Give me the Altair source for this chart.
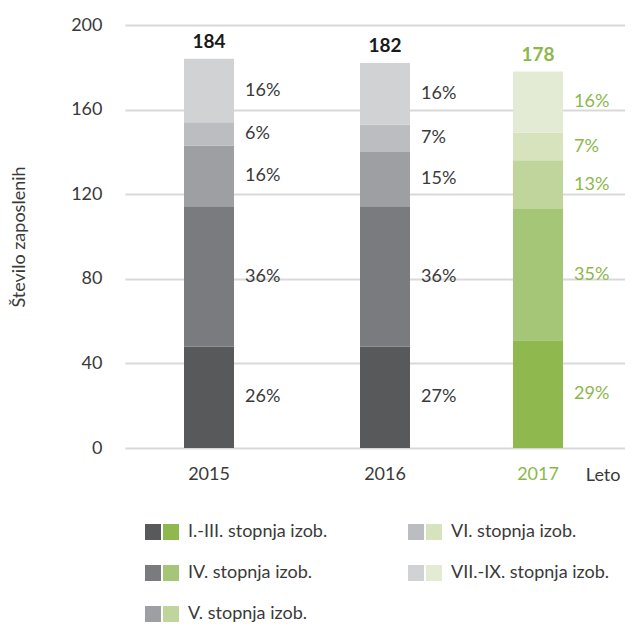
import altair as alt
import pandas as pd

years = [2015, 2016, 2017]
levels = ["I.-III. stopnja izob.", "IV. stopnja izob.", "V. stopnja izob.",
          "VI. stopnja izob.", "VII.-IX. stopnja izob."]
counts_2015 = [48, 66, 29, 11, 30]
counts_2016 = [48, 66, 26, 13, 29]
counts_2017 = [51, 62, 23, 13, 29]
pct_2015 = ["26%", "36%", "16%", "6%", "16%"]
pct_2016 = ["27%", "36%", "15%", "7%", "16%"]
pct_2017 = ["29%", "35%", "13%", "7%", "16%"]
totals = [184, 182, 178]
y_ticks = [0, 40, 80, 120, 160, 200]

grey_palette = ["#58595B", "#7A7B7F", "#9E9FA3", "#BCBDC0", "#D1D2D4"]
green_palette = ["#8FB84E", "#A6C677", "#BFD59B", "#D6E3BD", "#E3EBD5"]
GREEN_TEXT = "#8CB84B"
DARK_TEXT = "#3a3a3a"
FONT = "Lato"

rows = []
for year, counts, pcts in zip(years, [counts_2015, counts_2016, counts_2017],
                              [pct_2015, pct_2016, pct_2017]):
    pal = "green" if year == 2017 else "grey"
    cum = 0
    for i, (lvl, c, p) in enumerate(zip(levels, counts, pcts)):
        rows.append(dict(year=year, level=lvl, y0=cum, y1=cum + c, mid=cum + c / 2,
                         pct=p, key=f"{pal}-{i}", pal=pal))
        cum += c
df = pd.DataFrame(rows)
tot_df = pd.DataFrame({"year": years, "total": totals,
                       "label": [str(y) for y in years],
                       "pal": ["green" if y == 2017 else "grey" for y in years]})

keys = [f"grey-{i}" for i in range(5)] + [f"green-{i}" for i in range(5)]
color_scale = alt.Scale(domain=keys, range=grey_palette + green_palette)
text_scale = alt.Scale(domain=["grey", "green"], range=[DARK_TEXT, GREEN_TEXT])

W, H = 500, 423
# piecewise x scale: uneven spacing between the year columns, spanning the full width
xscale = alt.Scale(domain=[2014, 2015, 2016, 2017, 2018], range=[0, 84, 260, 413, W],
                   nice=False, zero=False, padding=0)
yscale = alt.Scale(domain=[0, 200], nice=False)

x_axis = alt.Axis(labels=False, grid=False, domain=False, ticks=False, tickSize=0,
                  title="Leto", titleFontSize=18, titleFont=FONT, titleFontWeight="normal",
                  titleColor=DARK_TEXT, titleX=495, titleY=32, titleAlign="right",
                  titleBaseline="alphabetic", titleAnchor="end")
y_axis = alt.Axis(values=y_ticks, grid=True, gridColor="#D9D9D9", gridWidth=2,
                  domain=False, ticks=False, tickSize=0, labelPadding=23,
                  labelFontSize=18, labelFont=FONT, labelColor=DARK_TEXT,
                  title="Število zaposlenih", titleFontSize=18, titleFont=FONT,
                  titleFontWeight="normal", titleColor=DARK_TEXT, titlePadding=42)

base = alt.Chart(df)
bars = base.mark_bar(size=50).encode(
    x=alt.X("year:Q", scale=xscale, axis=x_axis),
    y=alt.Y("y0:Q", scale=yscale, axis=y_axis),
    y2="y1:Q",
    color=alt.Color("key:N", scale=color_scale, legend=None),
)
pct_text = base.mark_text(align="left", baseline="middle", dx=36, fontSize=18,
                          font=FONT).encode(
    x=alt.X("year:Q", scale=xscale),
    y=alt.Y("mid:Q", scale=yscale),
    text="pct:N",
    color=alt.Color("pal:N", scale=text_scale, legend=None),
)
tot_text = alt.Chart(tot_df).mark_text(align="center", baseline="alphabetic", dy=-11,
                                       fontSize=19, fontWeight="bold", font=FONT).encode(
    x=alt.X("year:Q", scale=xscale),
    y=alt.Y("total:Q", scale=yscale),
    text="total:Q",
    color=alt.Color("pal:N", scale=alt.Scale(domain=["grey", "green"],
                                             range=["#1a1a1a", GREEN_TEXT]), legend=None),
)
year_text = alt.Chart(tot_df).mark_text(align="center", baseline="alphabetic", dy=32,
                                        fontSize=18, font=FONT).encode(
    x=alt.X("year:Q", scale=xscale),
    y=alt.Y(datum=0, scale=yscale),
    text="label:N",
    color=alt.Color("pal:N", scale=text_scale, legend=None),
)
main = alt.layer(bars, pct_text, tot_text, year_text).resolve_scale(
    color="independent").properties(width=W, height=H)

# custom legend with paired swatches
leg_df = pd.DataFrame({
    "level": levels,
    "col": [i // 3 for i in range(5)],
    "row": [i % 3 for i in range(5)],
    "grey": grey_palette,
    "green": green_palette,
})
lx = alt.Scale(domain=[-1, 0, 1, 2], range=[0, 28, 291, W], nice=False, zero=False)
ly = alt.Scale(domain=[0, 2], range=[13, 95], nice=False, zero=False)
lbase = alt.Chart(leg_df)
sq_grey = lbase.mark_square(size=256, opacity=1).encode(
    x=alt.X("col:Q", scale=lx, axis=None), y=alt.Y("row:Q", scale=ly, axis=None),
    color=alt.Color("grey:N", scale=None))
sq_green = lbase.mark_square(size=256, opacity=1, xOffset=18).encode(
    x=alt.X("col:Q", scale=lx, axis=None), y=alt.Y("row:Q", scale=ly, axis=None),
    color=alt.Color("green:N", scale=None))
leg_text = lbase.mark_text(align="left", baseline="middle", dx=35, fontSize=18,
                           font=FONT, color=DARK_TEXT).encode(
    x=alt.X("col:Q", scale=lx, axis=None), y=alt.Y("row:Q", scale=ly, axis=None),
    text="level:N")
legend = alt.layer(sq_grey, sq_green, leg_text).properties(width=W, height=100)

chart = alt.vconcat(main, legend, spacing=35).resolve_scale(
    color="independent", x="independent", y="independent"
).properties(
    padding={"top": 8, "left": 2, "right": 0, "bottom": 0}
).configure(font=FONT).configure_view(strokeWidth=0)

chart.save("out.html", embed_options={"renderer": "svg", "actions": False})
